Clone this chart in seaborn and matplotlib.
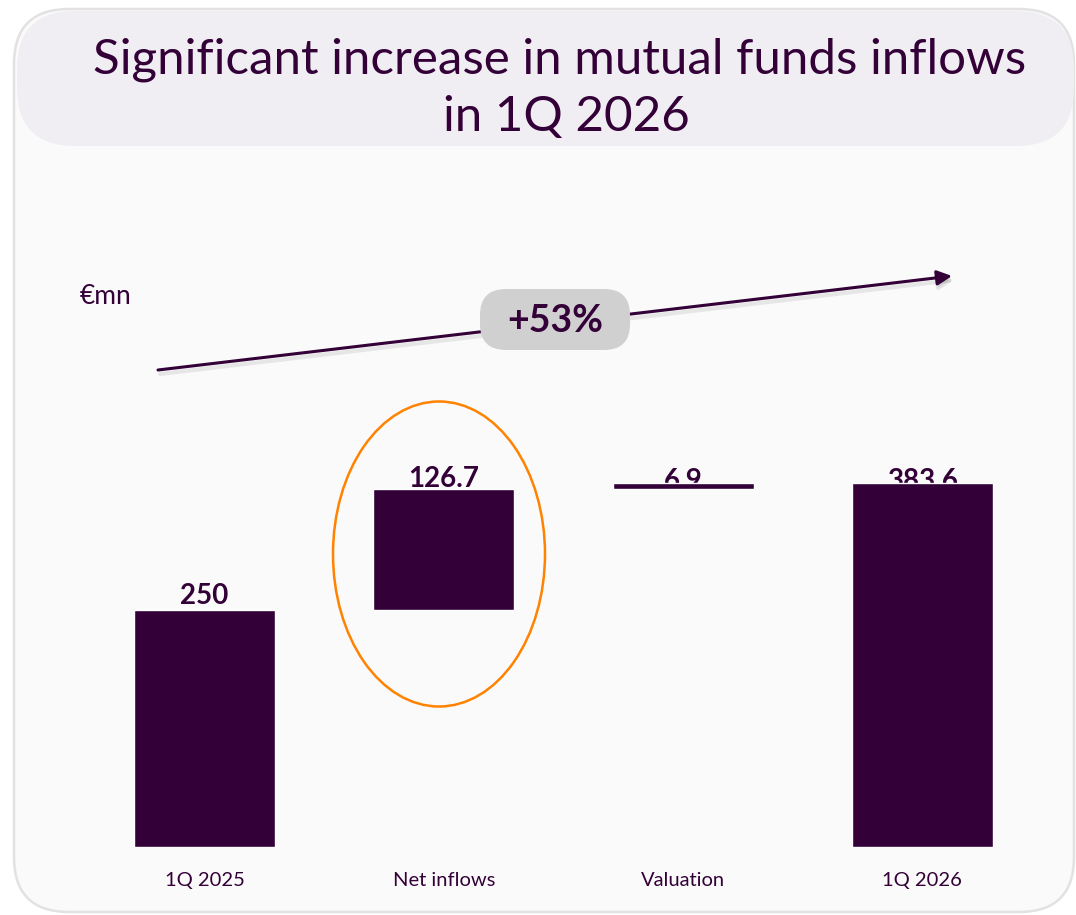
import matplotlib
matplotlib.use("Agg")
import matplotlib.pyplot as plt
import seaborn as sns
import pandas as pd
from matplotlib.patches import FancyBboxPatch, Ellipse, FancyArrowPatch

# ---------------- data ----------------
categories = ["1Q 2025", "Net inflows", "Valuation", "1Q 2026"]
values = [250, 126.7, 6.9, 383.6]
bases = [0, 250, 376.7, 0]
value_labels = ["250", "126.7", "6.9", "383.6"]
growth_label = "+53%"
unit_label = "€mn"
title_lines = ["Significant increase in mutual funds inflows", "in 1Q 2026"]

# ---------------- style ----------------
PURPLE = "#330038"
ORANGE = "#ff8200"
PANEL = "#fafafa"
BANNER = "#f0eef2"
BORDER = "#e2e2e2"
BADGE = "#d1d0d0"
FONT = "Lato"

sns.set_theme(style="white")
plt.rcParams["font.family"] = [FONT, "DejaVu Sans"]

W, H = 1076, 915
fig = plt.figure(figsize=(W / 100, H / 100), dpi=100)
fig.patch.set_facecolor("white")

# background axes in pixel coordinates
bg = fig.add_axes([0, 0, 1, 1], zorder=0)
bg.set_xlim(0, W)
bg.set_ylim(H, 0)
bg.axis("off")
bg.add_patch(FancyBboxPatch((14, 9), 1060, 903,
                            boxstyle="round,pad=0,rounding_size=55",
                            fc=PANEL, ec=BORDER, lw=1.8))
bg.add_patch(FancyBboxPatch((17, 11), 1057, 135,
                            boxstyle="round,pad=0,rounding_size=58",
                            fc=BANNER, ec="none"))
bg.text(560, 73, title_lines[0], ha="center", va="baseline",
        fontsize=35.5, color=PURPLE)
bg.text(566, 131, title_lines[1], ha="center", va="baseline",
        fontsize=35.5, color=PURPLE)
bg.text(80, 304, unit_label, ha="left", va="baseline", fontsize=19, color=PURPLE)

# main chart axes
left_px, right_px, base_px = 85, 1042, 847
ymax = 440
px_per_unit = 0.95
ax = fig.add_axes([left_px / W, (H - base_px) / H,
                   (right_px - left_px) / W, ymax * px_per_unit / H], zorder=1)
ax.set_facecolor("none")

df = pd.DataFrame({"category": categories, "value": values, "base": bases})
sns.barplot(data=df, x="category", y="value", order=categories,
            color=PURPLE, saturation=1, width=0.59, errorbar=None,
            bottom=df["base"].values, ax=ax, zorder=2)

label_offsets = [6, 2, -6, -6]
for i, (lab, b, v) in enumerate(zip(value_labels, bases, values)):
    ax.annotate(lab, xy=(i, b + v), xytext=(0, label_offsets[i]),
                textcoords="offset pixels", ha="center", va="baseline",
                fontsize=20, fontweight="bold", color=PURPLE, zorder=1)

ax.set_xlim(-0.5, 3.5)
ax.set_ylim(0, ymax)
ax.set_xlabel("")
ax.set_ylabel("")
ax.set_yticks([])
ax.tick_params(axis="x", length=0, pad=18, labelsize=14.5, labelcolor=PURPLE)
for s in ax.spines.values():
    s.set_visible(False)

# overlay axes for annotations
ov = fig.add_axes([0, 0, 1, 1], zorder=3)
ov.set_xlim(0, W)
ov.set_ylim(H, 0)
ov.axis("off")
ov.patch.set_alpha(0)

# arrow with faint shadow
ov.add_patch(FancyArrowPatch((160, 374), (954, 280), arrowstyle="-|>",
                             mutation_scale=22, lw=3, color="#000000",
                             alpha=0.08, shrinkA=0, shrinkB=0))
ov.add_patch(FancyArrowPatch((158, 370), (952, 276), arrowstyle="-|>",
                             mutation_scale=22, lw=2.2, color=PURPLE,
                             shrinkA=0, shrinkB=0))
ov.add_patch(FancyBboxPatch((480, 289), 150, 61,
                            boxstyle="round,pad=0,rounding_size=26",
                            fc=BADGE, ec="none", zorder=5))
ov.text(555, 321, growth_label, ha="center", va="center", fontsize=27,
        fontweight="bold", color=PURPLE, zorder=6)

ov.add_patch(Ellipse((439, 554), 212, 305, fill=False, ec=ORANGE, lw=1.8))

fig.savefig("out.png", dpi=100)
